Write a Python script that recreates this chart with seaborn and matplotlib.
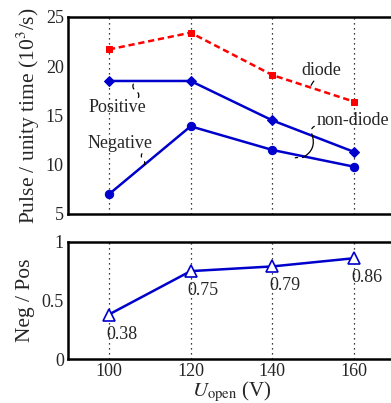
import pandas as pd
import matplotlib.pyplot as plt
import seaborn as sns

# Dados
u_open = [100, 120, 140, 160]
diode = [21.7, 23.4, 19.1, 16.4]
positive = [18.5, 18.5, 14.5, 11.3]
negative = [7.0, 13.9, 11.5, 9.8]
ratio = [0.38, 0.75, 0.79, 0.86]
ratio_labels = ['0.38', '0.75', '0.79', '0.86']

sns.set_theme(style="ticks")
plt.rcParams['font.family'] = ['Liberation Serif', 'DejaVu Serif']
plt.rcParams['mathtext.fontset'] = 'stix'
plt.rcParams['font.size'] = 13

blue = '#0000cc'
red = '#ff0000'

fig = plt.figure(figsize=(3.91, 4.03), dpi=100)
ax1 = fig.add_axes([0.174, 0.469, 0.836, 0.489])
ax2 = fig.add_axes([0.174, 0.109, 0.836, 0.291])

df = pd.DataFrame({'U': u_open, 'diode': diode, 'pos': positive,
                   'neg': negative, 'ratio': ratio})

# Gráfico superior
sns.lineplot(data=df, x='U', y='diode', ax=ax1, color=red, marker='s',
             markersize=5, markeredgecolor=red, linewidth=1.8,
             linestyle=(0, (2.5, 1.5)))
sns.lineplot(data=df, x='U', y='pos', ax=ax1, color=blue, marker='D',
             markersize=5, markeredgecolor=blue, linewidth=1.8)
sns.lineplot(data=df, x='U', y='neg', ax=ax1, color=blue, marker='o',
             markersize=6, markeredgecolor=blue, linewidth=1.8)

# Gráfico inferior
sns.lineplot(data=df, x='U', y='ratio', ax=ax2, color=blue, marker='^',
             markersize=8, markerfacecolor='white', markeredgecolor=blue,
             markeredgewidth=1.2, linewidth=1.8)
for x, y, lab in zip(u_open, ratio, ratio_labels):
    ax2.annotate(lab, (x, y), xytext=(-3, -11), textcoords='offset pixels',
                 ha='left', va='top', fontsize=13)

for ax in (ax1, ax2):
    ax.set_xlim(90, 170)
    ax.set_xticks(u_open)
    ax.grid(axis='x', color='black', linestyle=(0, (1, 3)), linewidth=0.9)
    for s in ax.spines.values():
        s.set_linewidth(1.8)
        s.set_color('black')
    ax.tick_params(direction='in', length=0, labelsize=13, pad=3)

ax1.set_ylim(5, 25)
ax1.set_yticks([5, 10, 15, 20, 25])
ax1.set_xticklabels([])
ax1.set_xlabel('')
ax1.set_ylabel('Pulse / unity time (10$^3$/s)', fontsize=15.5, labelpad=3)

ax2.set_ylim(0, 1)
ax2.set_yticks([0, 0.5, 1])
ax2.set_yticklabels(['0', '0.5', '1'])
ax2.set_xlabel('$U_{\\mathrm{open}}$ (V)', fontsize=15, labelpad=0)
ax2.set_ylabel('Neg / Pos', fontsize=15.5, labelpad=5)


def squiggle(ax, p0, p1):
    # linha ondulada (duas curvas opostas)
    mid = ((p0[0] + p1[0]) / 2, (p0[1] + p1[1]) / 2)
    ax.annotate('', xy=mid, xytext=p0,
                arrowprops=dict(arrowstyle='-', color='black', lw=0.9,
                                connectionstyle='arc3,rad=0.6'))
    ax.annotate('', xy=p1, xytext=mid,
                arrowprops=dict(arrowstyle='-', color='black', lw=0.9,
                                connectionstyle='arc3,rad=-0.6'))


lk = dict(arrowstyle='-', color='black', lw=0.9)
ax1.text(102, 15.8, 'Positive', fontsize=13, ha='center', va='center')
squiggle(ax1, (106.4, 18.4), (106.8, 16.6))
ax1.text(102.7, 12.2, 'Negative', fontsize=13, ha='center', va='center')
squiggle(ax1, (108.6, 11.3), (108.1, 9.8))
ax1.text(151.9, 19.6, 'diode', fontsize=13, ha='center', va='center')
ax1.annotate('', xy=(149.2, 17.8), xytext=(150.6, 18.7),
             arrowprops=dict(lk, connectionstyle='arc3,rad=0.1'))
ax1.text(150.9, 14.5, 'non-diode', fontsize=13, ha='left', va='center')
ax1.annotate('', xy=(146.8, 10.6), xytext=(149.4, 13.4),
             arrowprops=dict(lk, connectionstyle='arc3,rad=-0.5'))
ax1.annotate('', xy=(149.4, 13.4), xytext=(150.9, 14.0),
             arrowprops=dict(lk, connectionstyle='arc3,rad=0.3'))
ax1.annotate('', xy=(145.6, 10.7), xytext=(146.8, 10.6),
             arrowprops=dict(lk, connectionstyle='arc3,rad=0.3'))

fig.savefig('out.png', dpi=100)
